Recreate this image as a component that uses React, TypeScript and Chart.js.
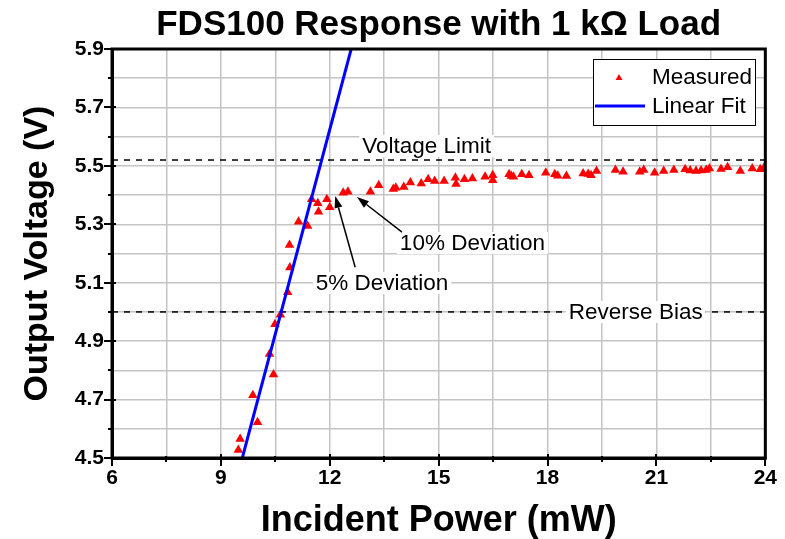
import React, { useEffect, useRef } from "react";
import { Chart, registerables } from "chart.js";

Chart.register(...registerables);

// ---- Data ----
const measuredPower = [
  9.48, 9.53, 9.88, 10.01, 10.34, 10.45, 10.49, 10.64, 10.84, 10.9, 10.89, 11.14, 11.39, 11.5, 11.67, 11.69,
  11.92, 12.0, 12.37, 12.5, 13.12, 13.35, 13.75, 13.82, 14.04, 14.22, 14.52, 14.71, 14.89, 15.15, 15.46, 15.48,
  15.71, 15.93, 16.28, 16.49, 16.49, 16.94, 17.0, 17.06, 17.29, 17.49, 17.95, 18.2, 18.28, 18.52, 18.98, 19.12,
  19.2, 19.35, 19.87, 20.08, 20.54, 20.65, 20.95, 21.2, 21.48, 21.79, 21.93, 22.09, 22.23, 22.37, 22.46, 22.78,
  22.96, 23.31, 23.64, 23.86, 23.97,
];
const measuredVoltage = [
  4.527, 4.565, 4.715, 4.622, 4.856, 4.786, 4.958, 4.99, 5.067, 5.152, 5.229, 5.309, 5.294, 5.386, 5.372, 5.343,
  5.386, 5.358, 5.408, 5.411, 5.411, 5.434, 5.421, 5.425, 5.428, 5.443, 5.44, 5.454, 5.448, 5.448, 5.459, 5.438,
  5.454, 5.457, 5.463, 5.468, 5.451, 5.471, 5.465, 5.463, 5.471, 5.468, 5.476, 5.471, 5.466, 5.465, 5.474, 5.472,
  5.468, 5.482, 5.486, 5.48, 5.48, 5.486, 5.476, 5.482, 5.486, 5.488, 5.484, 5.482, 5.484, 5.486, 5.491, 5.489,
  5.495, 5.482, 5.491, 5.488, 5.495,
];
const fitPower = [9.59, 12.59];
const fitVoltage = [4.5, 5.9];

const voltageLimit = 5.52;
const reverseBias = 5.0;

const xMin = 6;
const xMax = 24;
const yMin = 4.5;
const yMax = 5.9;

const annotationText = ["Voltage Limit", "Reverse Bias", "5% Deviation", "10% Deviation"];
const annotationX = [14.67, 20.43, 13.44, 15.93];
const annotationY = [5.568, 5.0, 5.099, 5.236];

const arrowFromX = [12.7, 13.99];
const arrowFromY = [5.153, 5.273];
const arrowToX = [12.15, 12.75];
const arrowToY = [5.397, 5.393];

const titleText = "FDS100 Response with 1 k\u03A9 Load";
const xTitle = "Incident Power (mW)";
const yTitle = "Output Voltage (V)";
const legendLabels = ["Measured", "Linear Fit"];

const FONT = "'Liberation Sans', Arial, Helvetica, sans-serif";

function drawArrow(ctx: CanvasRenderingContext2D, x1: number, y1: number, x2: number, y2: number) {
  const ang = Math.atan2(y2 - y1, x2 - x1);
  const L = 12;
  const W = 4;
  const bx = x2 - L * Math.cos(ang);
  const by = y2 - L * Math.sin(ang);
  ctx.beginPath();
  ctx.moveTo(x1, y1);
  ctx.lineTo(bx, by);
  ctx.stroke();
  ctx.beginPath();
  ctx.moveTo(x2, y2);
  ctx.lineTo(bx + W * Math.sin(ang), by - W * Math.cos(ang));
  ctx.lineTo(bx - W * Math.sin(ang), by + W * Math.cos(ang));
  ctx.closePath();
  ctx.fill();
}

const overlayPlugin = {
  id: "overlay",
  afterDatasetsDraw(chart: any) {
    const ctx: CanvasRenderingContext2D = chart.ctx;
    const xs = chart.scales.x;
    const ys = chart.scales.y;
    ctx.save();
    ctx.font = `22.5px ${FONT}`;
    ctx.textAlign = "center";
    ctx.textBaseline = "middle";
    for (let i = 0; i < annotationText.length; i++) {
      const px = xs.getPixelForValue(annotationX[i]);
      const py = ys.getPixelForValue(annotationY[i]);
      const w = ctx.measureText(annotationText[i]).width;
      ctx.fillStyle = "#ffffff";
      ctx.fillRect(px - w / 2 - 3, py - 11, w + 6, 22);
      ctx.fillStyle = "#000000";
      ctx.fillText(annotationText[i], px, py + 1);
    }
    ctx.strokeStyle = "#000";
    ctx.fillStyle = "#000";
    ctx.lineWidth = 1.5;
    for (let i = 0; i < arrowFromX.length; i++) {
      drawArrow(
        ctx,
        xs.getPixelForValue(arrowFromX[i]),
        ys.getPixelForValue(arrowFromY[i]),
        xs.getPixelForValue(arrowToX[i]),
        ys.getPixelForValue(arrowToY[i])
      );
    }
    ctx.restore();
  },
  afterDraw(chart: any) {
    const ctx: CanvasRenderingContext2D = chart.ctx;
    const { left, right, top, bottom } = chart.chartArea;
    const xs = chart.scales.x;
    const ys = chart.scales.y;
    ctx.save();
    ctx.strokeStyle = "#000";
    ctx.lineWidth = 3;
    ctx.strokeRect(left, top, right - left, bottom - top);
    ctx.lineWidth = 2;
    for (let k = 0; k <= 14; k++) {
      const v = yMin + k * 0.1;
      const py = Math.round(ys.getPixelForValue(v));
      const major = k % 2 === 0;
      ctx.beginPath();
      ctx.moveTo(left - (major ? 8 : 4), py);
      ctx.lineTo(left + (major ? 4 : 2), py);
      ctx.stroke();
    }
    for (let k = 0; k <= 12; k++) {
      const v = xMin + k * 1.5;
      const px = Math.round(xs.getPixelForValue(v));
      const major = k % 2 === 0;
      ctx.beginPath();
      ctx.moveTo(px, bottom + (major ? 8 : 4));
      ctx.lineTo(px, bottom - (major ? 4 : 2));
      ctx.stroke();
    }
    ctx.fillStyle = "#000";
    ctx.font = `bold 35px ${FONT}`;
    ctx.textAlign = "center";
    ctx.textBaseline = "alphabetic";
    ctx.fillText(titleText, (left + right) / 2, 35);
    const lx = 593, ly = 59, lw = 162, lh = 66;
    ctx.fillStyle = "#fff";
    ctx.fillRect(lx, ly, lw, lh);
    ctx.strokeStyle = "#000";
    ctx.lineWidth = 1;
    ctx.strokeRect(lx + 0.5, ly + 0.5, lw, lh);
    ctx.fillStyle = "#ff0000";
    const tx = 619, ty = 78, r = 4;
    ctx.beginPath();
    ctx.moveTo(tx, ty - r);
    ctx.lineTo(tx + r * 0.87, ty + r * 0.5);
    ctx.lineTo(tx - r * 0.87, ty + r * 0.5);
    ctx.closePath();
    ctx.fill();
    ctx.strokeStyle = "#0000ff";
    ctx.lineWidth = 3;
    ctx.beginPath();
    ctx.moveTo(595, 106);
    ctx.lineTo(645, 106);
    ctx.stroke();
    ctx.fillStyle = "#000";
    ctx.font = `22.5px ${FONT}`;
    ctx.textAlign = "left";
    ctx.textBaseline = "middle";
    ctx.fillText(legendLabels[0], 652, 78);
    ctx.fillText(legendLabels[1], 652, 107);
    ctx.restore();
  },
};

export default function App() {
  const canvasRef = useRef<HTMLCanvasElement | null>(null);

  useEffect(() => {
    const canvas = canvasRef.current;
    if (!canvas) return;
    const measured = measuredPower.map((x, i) => ({ x, y: measuredVoltage[i] }));
    const fit = fitPower.map((x, i) => ({ x, y: fitVoltage[i] }));
    const chart = new Chart(canvas, {
      type: "scatter",
      data: {
        datasets: [
          {
            label: legendLabels[1],
            data: fit,
            showLine: true,
            borderColor: "#0000ff",
            borderWidth: 3,
            pointRadius: 0,
            order: 0,
          },
          {
            label: legendLabels[0],
            data: measured,
            pointStyle: "triangle",
            pointRadius: 5.5,
            pointBackgroundColor: "#ff0000",
            pointBorderColor: "#ff0000",
            pointBorderWidth: 0,
            order: 1,
          },
          {
            label: "Voltage Limit",
            data: [
              { x: xMin, y: voltageLimit },
              { x: xMax, y: voltageLimit },
            ],
            showLine: true,
            borderColor: "#000",
            borderWidth: 1.5,
            borderDash: [6, 6],
            pointRadius: 0,
            order: 2,
          },
          {
            label: "Reverse Bias",
            data: [
              { x: xMin, y: reverseBias },
              { x: xMax, y: reverseBias },
            ],
            showLine: true,
            borderColor: "#000",
            borderWidth: 1.5,
            borderDash: [6, 6],
            pointRadius: 0,
            order: 2,
          },
        ],
      },
      options: {
        animation: false,
        responsive: true,
        maintainAspectRatio: false,
        layout: { padding: { top: 49, right: 16, left: 0, bottom: 0 } },
        plugins: {
          legend: { display: false },
          title: { display: false },
          tooltip: { enabled: false },
        },
        scales: {
          x: {
            type: "linear",
            min: xMin,
            max: xMax,
            afterFit: (s: any) => {
              s.height = 81;
            },
            ticks: {
              stepSize: 1.5,
              autoSkip: false,
              maxRotation: 0,
              padding: 8,
              color: "#000",
              font: { family: FONT, size: 21, weight: "bold" },
              callback: (v: any) => {
                const n = Number(v);
                return Math.abs(n / 3 - Math.round(n / 3)) < 1e-6 ? String(Math.round(n)) : "";
              },
            },
            grid: { color: "#c4c4c4", lineWidth: 1.5, drawTicks: false },
            border: { color: "#000", width: 3 },
            title: {
              display: true,
              text: xTitle,
              color: "#000",
              font: { family: FONT, size: 36, weight: "bold", lineHeight: 1 },
              padding: { top: 0, bottom: 0 },
            },
          },
          y: {
            type: "linear",
            min: yMin,
            max: yMax,
            afterFit: (s: any) => {
              s.width = 112;
            },
            ticks: {
              stepSize: 0.1,
              autoSkip: false,
              padding: 8,
              color: "#000",
              font: { family: FONT, size: 21, weight: "bold" },
              callback: (v: any) => {
                const k = Math.round(Number(v) * 10);
                return k % 2 === 1 ? (k / 10).toFixed(1) : "";
              },
            },
            grid: { color: "#c4c4c4", lineWidth: 1.5, drawTicks: false },
            border: { color: "#000", width: 3 },
            title: {
              display: true,
              text: yTitle,
              color: "#000",
              font: { family: FONT, size: 34, weight: "bold", lineHeight: 1 },
              padding: { top: 21, bottom: 0 },
            },
          },
        },
      },
      plugins: [overlayPlugin],
    });
    return () => chart.destroy();
  }, []);

  return (
    <div style={{ position: "fixed", left: 0, top: 0, width: 785, height: 539, background: "#fff" }}>
      <canvas ref={canvasRef} />
    </div>
  );
}
